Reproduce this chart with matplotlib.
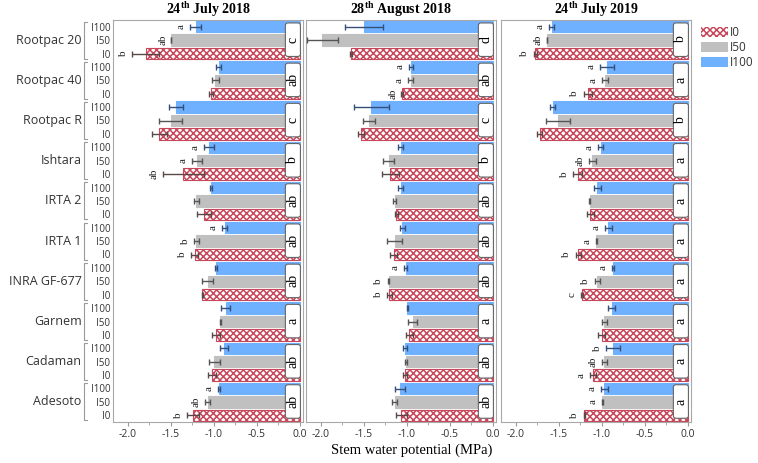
import matplotlib
matplotlib.use("Agg")
import matplotlib.pyplot as plt
import matplotlib.transforms as mtransforms
from matplotlib.patches import FancyBboxPatch, Patch

genotypes = ["Rootpac 20", "Rootpac 40", "Rootpac R", "Ishtara", "IRTA 2",
             "IRTA 1", "INRA GF-677", "Garnem", "Cadaman", "Adesoto"]
treatments = ["I100", "I50", "I0"]
titles = [r"24$^{\mathbf{th}}$ July 2018",
          r"28$^{\mathbf{th}}$ August 2018",
          r"24$^{\mathbf{th}}$ July 2019"]
x_ticks = [-2.0, -1.5, -1.0, -0.5, 0.0]

# mean stem water potential per genotype: [I100, I50, I0]
jul18_mean = [[-1.21, -1.49, -1.79], [-0.94, -0.98, -1.03], [-1.44, -1.50, -1.63],
              [-1.05, -1.19, -1.35], [-1.03, -1.20, -1.11], [-0.87, -1.20, -1.22],
              [-0.97, -1.07, -1.13], [-0.86, -0.92, -0.97], [-0.88, -0.99, -1.02],
              [-0.94, -1.07, -1.24]]
jul18_err = [[0.06, 0.0, 0.16], [0.03, 0.04, 0.02], [0.08, 0.13, 0.09],
             [0.06, 0.06, 0.24], [0.01, 0.03, 0.08], [0.03, 0.03, 0.04],
             [0.01, 0.06, 0.01], [0.05, 0.01, 0.05], [0.05, 0.06, 0.05],
             [0.01, 0.03, 0.07]]
jul18_letters = [["a", "ab", "b"], ["", "", ""], ["", "", ""], ["a", "a", "ab"],
                 ["", "", ""], ["a", "b", "b"], ["", "", ""], ["", "", ""],
                 ["", "", ""], ["a", "ab", "b"]]
jul18_groups = ["c", "ab", "c", "b", "ab", "ab", "ab", "a", "ab", "ab"]

aug18_mean = [[-1.50, -1.98, -1.65], [-0.95, -0.95, -1.05], [-1.41, -1.44, -1.53],
              [-1.07, -1.21, -1.19], [-1.07, -1.14, -1.12], [-1.05, -1.14, -1.15],
              [-1.01, -1.21, -1.20], [-0.99, -0.93, -0.97], [-1.02, -1.01, -1.02],
              [-1.08, -1.14, -1.06]]
aug18_err = [[0.22, 0.18, 0.01], [0.02, 0.03, 0.01], [0.20, 0.07, 0.04],
             [0.03, 0.06, 0.10], [0.03, 0.02, 0.02], [0.03, 0.09, 0.04],
             [0.02, 0.01, 0.03], [0.01, 0.05, 0.04], [0.02, 0.01, 0.02],
             [0.06, 0.03, 0.06]]
aug18_letters = [["", "", ""], ["a", "a", "ab"], ["", "", ""], ["", "", ""],
                 ["", "", ""], ["", "", ""], ["a", "b", "b"], ["", "", ""],
                 ["", "", ""], ["", "", ""]]
aug18_groups = ["d", "ab", "c", "b", "ab", "ab", "ab", "a", "ab", "ab"]

jul19_mean = [[-1.58, -1.64, -1.77], [-0.94, -0.96, -1.16], [-1.57, -1.51, -1.72],
              [-1.01, -1.11, -1.28], [-1.05, -1.14, -1.13], [-0.92, -1.06, -1.27],
              [-0.87, -1.05, -1.23], [-0.88, -0.97, -1.00], [-0.87, -0.97, -1.10],
              [-0.97, -0.99, -1.20]]
jul19_err = [[0.03, 0.0, 0.02], [0.08, 0.04, 0.05], [0.03, 0.14, 0.03],
             [0.03, 0.04, 0.05], [0.04, 0.01, 0.04], [0.04, 0.01, 0.03],
             [0.01, 0.03, 0.01], [0.04, 0.03, 0.04], [0.08, 0.03, 0.04],
             [0.04, 0.01, 0.01]]
jul19_letters = [["a", "ab", "b"], ["a", "a", "b"], ["", "", ""], ["a", "ab", "b"],
                 ["", "", ""], ["a", "a", "b"], ["a", "b", "c"], ["", "", ""],
                 ["b", "ab", "a"], ["a", "a", "b"]]
jul19_groups = ["b", "a", "b", "a", "a", "a", "a", "a", "a", "a"]

panels = [(jul18_mean, jul18_err, jul18_letters, jul18_groups),
          (aug18_mean, aug18_err, aug18_letters, aug18_groups),
          (jul19_mean, jul19_err, jul19_letters, jul19_groups)]

bar_colors = ["#6fb1ff", "#c0c0c0", "white"]
edge_colors = ["#6fb1ff", "#c0c0c0", "#c8465a"]
hatches = [None, None, "xxxxx"]
err_colors = ["#34507a", "#555555", "#5a4848"]

SANS = "Open Sans"
SERIF = "Liberation Serif"
plt.rcParams["mathtext.fontset"] = "custom"
plt.rcParams["mathtext.rm"] = SERIF
plt.rcParams["mathtext.bf"] = SERIF + ":bold"
plt.rcParams["hatch.linewidth"] = 1.1


def main():
    fig = plt.figure(figsize=(7.58, 4.63), dpi=100)
    lefts = [113, 306, 501]
    n = len(genotypes)

    for p, (means, errs, letters, groups) in enumerate(panels):
        ax = fig.add_axes([lefts[p] / 758, 41 / 463, 190 / 758, 402 / 463])
        for t in range(3):
            ys = [g * 3 + t + 0.5 for g in range(n)]
            vals = [means[g][t] for g in range(n)]
            es = [errs[g][t] for g in range(n)]
            ax.barh(ys, vals, height=0.84, color=bar_colors[t],
                    edgecolor=edge_colors[t], hatch=hatches[t], linewidth=0.8,
                    zorder=2)
            ax.errorbar(vals, ys, xerr=es, fmt="none", ecolor=err_colors[t],
                        elinewidth=1.0, capsize=2.5, capthick=1.0, zorder=3)
            for g in range(n):
                lab = letters[g][t]
                if lab:
                    ax.text(vals[g] - es[g] - 0.05, ys[g], lab, rotation=90,
                            ha="right", va="center", fontsize=8,
                            family=SERIF, color="#222222", zorder=4)

        for g in range(n):
            box = FancyBboxPatch((-0.165, g * 3 + 0.22), 0.175, 2.5,
                                 boxstyle="round,pad=0,rounding_size=0.03",
                                 mutation_aspect=6, facecolor="white",
                                 edgecolor="#666666", linewidth=0.8, zorder=5)
            ax.add_patch(box)
            ax.text(-0.078, g * 3 + 1.47, groups[g], rotation=90, ha="center",
                    va="center", fontsize=10, family=SERIF, zorder=6)

        ax.set_xlim(-2.17, 0.04)
        ax.set_ylim(n * 3, 0)
        ax.set_xticks(x_ticks)
        ax.set_xticklabels(["%.1f" % v for v in x_ticks], family=SANS,
                           fontsize=7.5, color="#333333")
        ax.set_xticks([-1.75, -1.25, -0.75, -0.25], minor=True)
        ax.tick_params(axis="x", which="major", length=3, color="#999999", pad=2)
        ax.tick_params(axis="x", which="minor", length=2, color="#999999")
        for s in ax.spines.values():
            s.set_color("#a8a8a8")
            s.set_linewidth(0.8)
        ax.set_title(titles[p], family=SERIF, fontweight="bold", fontsize=10,
                     pad=4)

        if p == 0:
            centers = [g * 3 + t + 0.5 for g in range(n) for t in range(3)]
            ax.set_yticks(centers)
            ax.set_yticklabels(treatments * n, family=SANS, fontsize=7,
                               color="#333333")
            ax.tick_params(axis="y", length=0, pad=2)
            trans = mtransforms.blended_transform_factory(ax.transAxes,
                                                          ax.transData)
            for g in range(n):
                y0, y1 = g * 3 + 0.12, g * 3 + 2.88
                ax.plot([-0.138, -0.153, -0.153, -0.138], [y0, y0, y1, y1],
                        color="#999999", lw=0.8, transform=trans,
                        clip_on=False)
                ax.text(-0.165, g * 3 + 1.5, genotypes[g], transform=trans,
                        ha="right", va="center", family=SANS, fontsize=9,
                        color="#333333")
        else:
            ax.set_yticks([])

    fig.text(412 / 758, 1 - 450 / 463, "Stem water potential (MPa)",
             family=SERIF, fontsize=10.5, ha="center", va="center")

    handles = [Patch(facecolor=bar_colors[t], edgecolor=edge_colors[t],
                     hatch=hatches[t], linewidth=0) for t in (2, 1, 0)]
    fig.legend(handles, ["I0", "I50", "I100"], loc="upper left",
               bbox_to_anchor=(693 / 758, 1 - 18 / 463), frameon=False,
               prop={"family": SANS, "size": 8.5}, handlelength=2.3,
               handleheight=0.9, handletextpad=0.15, labelspacing=0.15,
               borderpad=0.2, labelcolor="#333333")

    fig.savefig("out.png", dpi=100)


if __name__ == "__main__":
    main()
